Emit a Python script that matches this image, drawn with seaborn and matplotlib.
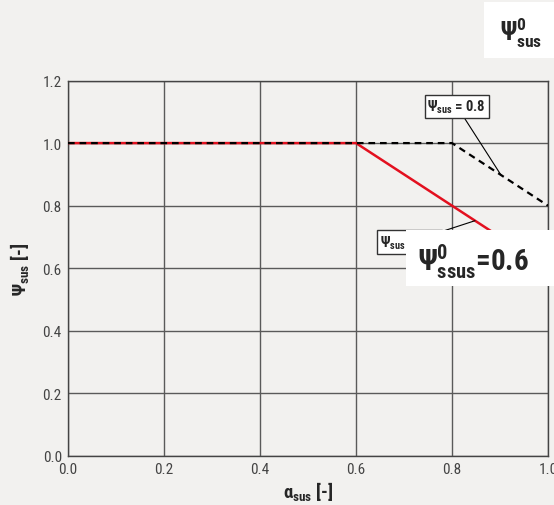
import matplotlib
matplotlib.use("Agg")
import matplotlib.pyplot as plt
from matplotlib import font_manager
import seaborn as sns
import pandas as pd

# reduction curves psi_sus over alpha_sus
alpha_06 = [0.0, 0.6, 1.0]
psi_06 = [1.0, 1.0, 0.6]
alpha_08 = [0.0, 0.8, 1.0]
psi_08 = [1.0, 1.0, 0.8]
ticks = [0.0, 0.2, 0.4, 0.6, 0.8, 1.0]
yticks = [0.0, 0.2, 0.4, 0.6, 0.8, 1.0, 1.2]

BG = "#f2f1ef"
installed = {f.name for f in font_manager.fontManager.ttflist}
FONT = next(f for f in ["Liberation Sans Narrow", "Roboto Condensed", "Liberation Sans", "DejaVu Sans"]
            if f in installed)

sns.set_style("white")
plt.rcParams["font.family"] = [FONT, "DejaVu Sans"]
plt.rcParams["mathtext.fontset"] = "custom"
plt.rcParams["mathtext.rm"] = FONT
plt.rcParams["mathtext.bf"] = FONT + ":bold"
plt.rcParams["mathtext.it"] = FONT + ":bold"
plt.rcParams["mathtext.default"] = "bf"

fig = plt.figure(figsize=(5.54, 5.06), dpi=100, facecolor=BG)
ax = fig.add_axes([68 / 554, 49 / 506, 480 / 554, 375.5 / 506])
ax.set_facecolor(BG)

d06 = pd.DataFrame({"alpha": alpha_06, "psi": psi_06})
d08 = pd.DataFrame({"alpha": alpha_08, "psi": psi_08})
sns.lineplot(data=d06, x="alpha", y="psi", ax=ax, color="#e3101f", lw=1.8, zorder=3)
sns.lineplot(data=d08, x="alpha", y="psi", ax=ax, color="black", lw=1.6,
             linestyle=(0, (3, 2.2)), zorder=4)

ax.set_xlim(0, 1.0)
ax.set_ylim(0, 1.2)
ax.set_xticks(ticks)
ax.set_yticks(yticks)
ax.set_xticklabels([f"{t:.1f}" for t in ticks])
ax.set_yticklabels([f"{t:.1f}" for t in yticks])
ax.grid(True, color="#5a5a5a", lw=1.0)
ax.tick_params(length=0, labelsize=11, labelcolor="#444444", pad=4.5)
for s in ax.spines.values():
    s.set_color("#444444")
    s.set_linewidth(1.0)

ax.set_xlabel(r"$\alpha_{sus}$ [-]", fontsize=13.5, fontweight="bold", labelpad=2)
ax.set_ylabel(r"$\Psi_{sus}$ [-]", fontsize=13.5, fontweight="bold", labelpad=8)

box = dict(boxstyle="square,pad=0.2", fc="white", ec="#333333", lw=1.0)
ax.annotate(r"$\Psi_{sus}$ = 0.8", xy=(0.902, 0.898), xytext=(0.81, 1.118),
            ha="center", va="center", fontsize=10.5, fontweight="bold",
            bbox=box, arrowprops=dict(arrowstyle="-", color="black", lw=0.8,
                                      shrinkA=0, shrinkB=0), zorder=6)
ax.annotate(r"$\Psi_{sus}$ = 0.6", xy=(0.848, 0.752), xytext=(0.712, 0.684),
            ha="center", va="center", fontsize=10.5, fontweight="bold",
            bbox=box, arrowprops=dict(arrowstyle="-", color="black", lw=0.8,
                                      shrinkA=0, shrinkB=0), zorder=6)

# white label boxes on top
fig.patches.append(plt.Rectangle((406 / 554, 1 - 287 / 506), 148 / 554, 56 / 506,
                                 transform=fig.transFigure, fc="white", ec="none", zorder=10))
fig.text(418 / 554, 1 - 262 / 506, r"$\Psi^{0}_{ssus}$=0.6", fontsize=21,
         fontweight="bold", va="center", ha="left", zorder=11)
fig.patches.append(plt.Rectangle((484 / 554, 1 - 59 / 506), 70 / 554, 56 / 506,
                                 transform=fig.transFigure, fc="white", ec="none", zorder=10))
fig.text(500 / 554, 1 - 33 / 506, r"$\Psi^{0}_{sus}$", fontsize=18,
         fontweight="bold", va="center", ha="left", zorder=11)

fig.savefig("out.png", dpi=100, facecolor=BG)
